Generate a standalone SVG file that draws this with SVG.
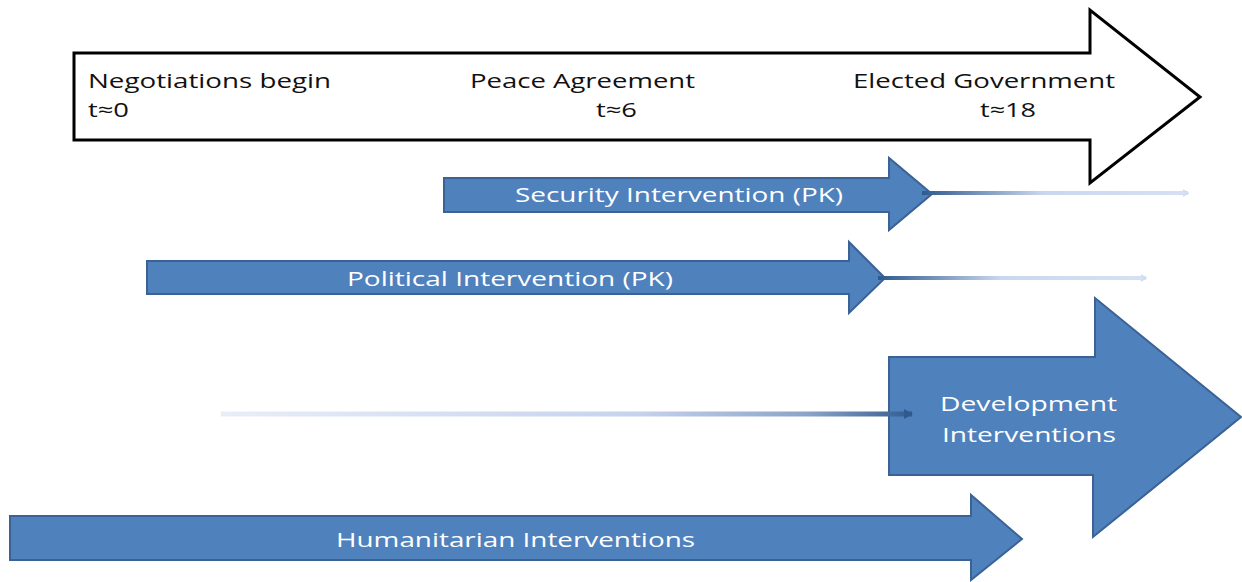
<svg xmlns="http://www.w3.org/2000/svg" width="1242" height="582" viewBox="0 0 1242 582">
  <style>
    .blue { fill: #4F81BD; stroke: #3A6295; stroke-width: 2; stroke-linejoin: miter; }
    .timeline { fill: #FFFFFF; stroke: #000000; stroke-width: 3; }
    .lbl { font-family: "Open Sans", "Liberation Sans", sans-serif; font-size: 20px; fill: #111111; }
    .wlbl { font-family: "Open Sans", "Liberation Sans", sans-serif; font-size: 20px; fill: #FFFFFF; }
  </style>
  <defs>
    <linearGradient id="gSec" gradientUnits="userSpaceOnUse" x1="922" y1="0" x2="1190" y2="0">
      <stop offset="0" stop-color="#2F5A8F"/>
      <stop offset="0.45" stop-color="#C9D7EE"/>
      <stop offset="1" stop-color="#D6E1F3"/>
    </linearGradient>
    <linearGradient id="gPol" gradientUnits="userSpaceOnUse" x1="880" y1="0" x2="1148" y2="0">
      <stop offset="0" stop-color="#2F5A8F"/>
      <stop offset="0.45" stop-color="#C9D7EE"/>
      <stop offset="1" stop-color="#D6E1F3"/>
    </linearGradient>
    <linearGradient id="gDev" gradientUnits="userSpaceOnUse" x1="221" y1="0" x2="913" y2="0">
      <stop offset="0" stop-color="#E8EEF8"/>
      <stop offset="0.6" stop-color="#C6D3EE"/>
      <stop offset="0.85" stop-color="#8AA3C8"/>
      <stop offset="1" stop-color="#2F5A8F"/>
    </linearGradient>
    <marker id="mPale" markerWidth="8" markerHeight="8" refX="6" refY="4" orient="auto" markerUnits="userSpaceOnUse">
      <path d="M1,1 L6,4 L1,7" fill="none" stroke="#D0DCF0" stroke-width="1.5"/>
    </marker>
    <marker id="mDark" markerWidth="10" markerHeight="10" refX="8" refY="5" orient="auto" markerUnits="userSpaceOnUse">
      <path d="M0,0 L9,5 L0,10 Z" fill="#2F5A8F"/>
    </marker>
  </defs>

  <g id="timeline">
    <path class="timeline" d="M74,53 L1090,53 L1090,10 L1200,97 L1090,183 L1090,140 L74,140 Z"/>
    <text class="lbl" x="88" y="88" textLength="243" lengthAdjust="spacingAndGlyphs">Negotiations begin</text>
    <text class="lbl" x="88" y="117" textLength="41" lengthAdjust="spacingAndGlyphs">t≈0</text>
    <text class="lbl" x="470" y="88" textLength="225" lengthAdjust="spacingAndGlyphs">Peace Agreement</text>
    <text class="lbl" x="596" y="117" textLength="41" lengthAdjust="spacingAndGlyphs">t≈6</text>
    <text class="lbl" x="853" y="88" textLength="262" lengthAdjust="spacingAndGlyphs">Elected Government</text>
    <text class="lbl" x="980" y="117" textLength="56" lengthAdjust="spacingAndGlyphs">t≈18</text>
  </g>

  <g id="security">
    <path class="blue" d="M444,178 L889,178 L889,158 L932,194 L889,230 L889,212 L444,212 Z"/>
    <text class="wlbl" x="515" y="202" textLength="328" lengthAdjust="spacingAndGlyphs">Security Intervention (PK)</text>
  </g>

  <g id="political">
    <path class="blue" d="M147,261 L849,261 L849,242 L885,278 L849,313 L849,294 L147,294 Z"/>
    <text class="wlbl" x="347" y="286" textLength="326" lengthAdjust="spacingAndGlyphs">Political Intervention (PK)</text>
  </g>

  <g id="development">
    <path class="blue" d="M889,357 L1095,357 L1095,298 L1241,417 L1093,537 L1093,475 L889,475 Z"/>
    <text class="wlbl" x="940" y="411" textLength="177" lengthAdjust="spacingAndGlyphs">Development</text>
    <text class="wlbl" x="942" y="442" textLength="174" lengthAdjust="spacingAndGlyphs">Interventions</text>
  </g>

  <g id="humanitarian">
    <path class="blue" d="M10,516 L971,516 L971,495 L1022,539 L971,580 L971,560 L10,560 Z"/>
    <text class="wlbl" x="336" y="547" textLength="359" lengthAdjust="spacingAndGlyphs">Humanitarian Interventions</text>
  </g>

  <g id="connectors">
    <line x1="922" y1="193" x2="1188" y2="193" stroke="url(#gSec)" stroke-width="4" marker-end="url(#mPale)"/>
    <line x1="878" y1="278" x2="1146" y2="278" stroke="url(#gPol)" stroke-width="4" marker-end="url(#mPale)"/>
    <line x1="221" y1="414" x2="912" y2="414" stroke="url(#gDev)" stroke-width="5" marker-end="url(#mDark)"/>
  </g>
</svg>
